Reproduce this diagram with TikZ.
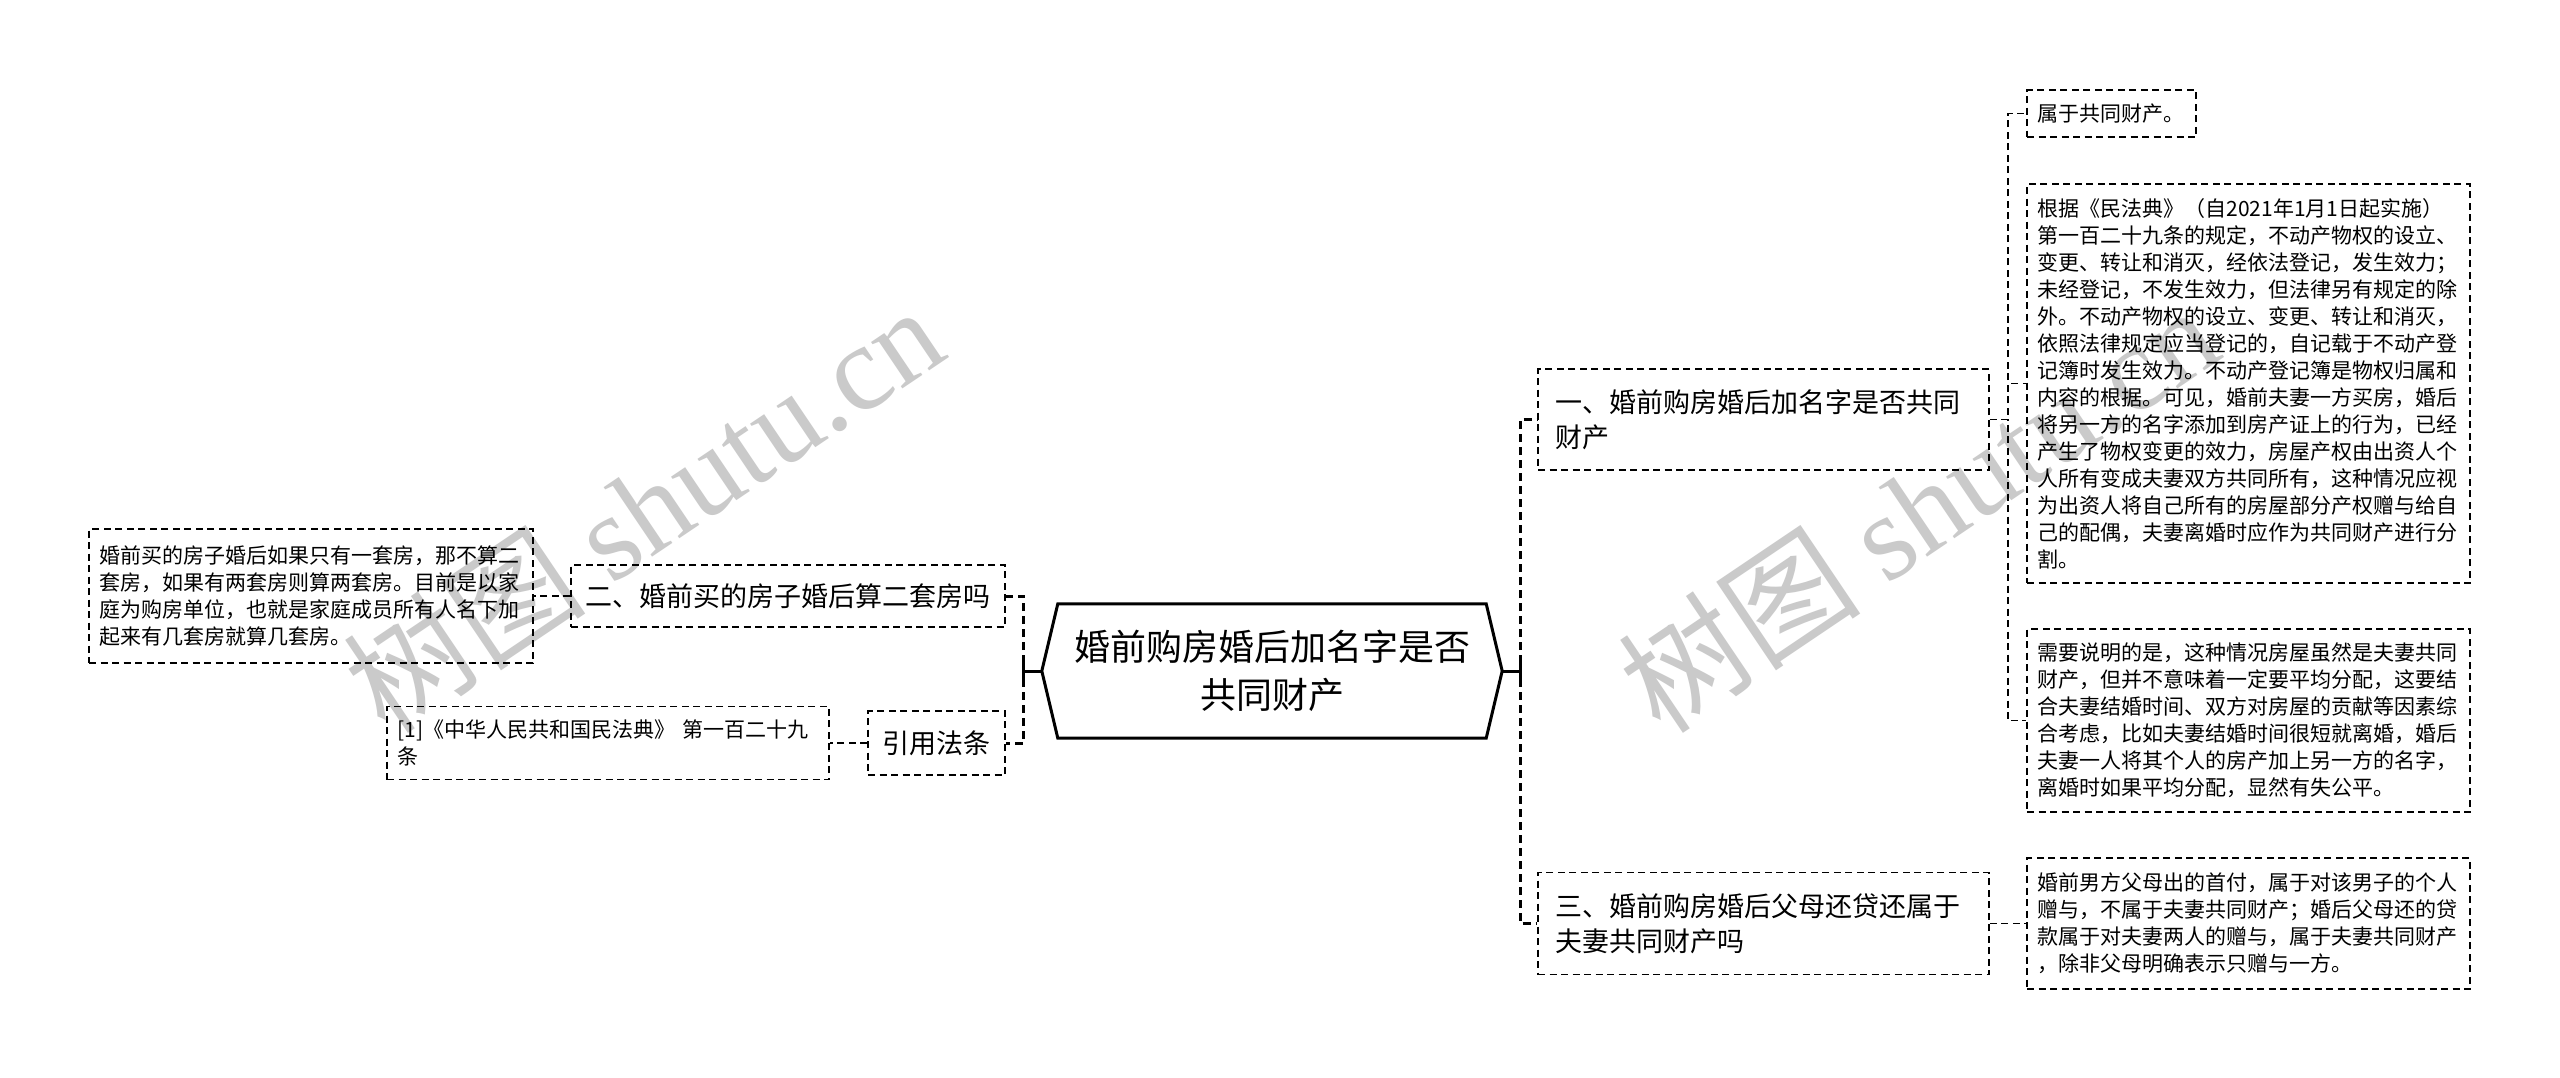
\documentclass[tikz,border=0pt]{standalone}
\usepackage{fontspec}
\setmainfont{Noto Sans CJK SC}
\newfontfamily\wmserif{Liberation Serif}
\newfontfamily\wmcjk{Noto Sans CJK SC}
\usetikzlibrary{calc}
\definecolor{wmgray}{RGB}{202,202,202}
\tikzset{
  leafbox/.style={draw=black, line width=1.6pt, dash pattern=on 7pt off 4.5pt,
    align=left, inner xsep=10.5pt, inner ysep=0pt, anchor=center,
    font=\fontsize{21}{27}\selectfont},
  lvlbox/.style={draw=black, line width=1.8pt, dash pattern=on 7pt off 4.5pt,
    align=left, inner ysep=0pt, anchor=center,
    font=\fontsize{27}{35}\selectfont},
  conna/.style={draw=black, line width=3pt, dash pattern=on 8pt off 5pt},
  connb/.style={draw=black, line width=1.8pt, dash pattern=on 7pt off 4.5pt},
  wm/.style={text=wmgray, inner sep=0pt, anchor=center, rotate=34}
}
\begin{document}
\begin{tikzpicture}[x=1pt,y=-1pt]
\fill[white] (0,0) rectangle (2560,1077);
\useasboundingbox (0,0) rectangle (2560,1077);

% watermarks
\node[wm] (wmA) at (643,508) {\fontsize{122}{130}\selectfont{\wmcjk 树图} {\wmserif shutu.cn}};
\node[wm] (wmB) at (1918,508) {\fontsize{122}{130}\selectfont{\wmcjk 树图} {\wmserif shutu.cn}};

% root
\node[inner sep=0pt, minimum width=460pt, minimum height=134pt, align=center,
      font=\fontsize{36}{48}\selectfont] (root) at (1272,671) {};
\draw[line width=3pt, fill=white, line join=miter]
  (root.west) -- ([xshift=16pt]root.north west) -- ([xshift=-16pt]root.north east)
  -- (root.east) -- ([xshift=-16pt]root.south east) -- ([xshift=16pt]root.south west) -- cycle;
\node[inner sep=0pt, align=center, font=\fontsize{36}{48}\selectfont] (roottext) at (root.center) {婚前购房婚后加名字是否\\共同财产};

% level 1
\node[lvlbox, inner xsep=17pt, text width=417pt, minimum height=101pt] (A) at (1763.5,419.5) {一、婚前购房婚后加名字是否共同\\财产};
\node[lvlbox, inner xsep=17pt, text width=417pt, minimum height=102pt] (B) at (1763.5,923.5) {三、婚前购房婚后父母还贷还属于\\夫妻共同财产吗};
\node[lvlbox, inner xsep=14.5pt, text width=405pt, minimum height=62pt] (two) at (788,596) {二、婚前买的房子婚后算二套房吗};
\node[lvlbox, inner xsep=14.5pt, text width=108pt, minimum height=64pt] (cite) at (936.5,743) {引用法条};

% leaves
\node[leafbox, text width=148pt, minimum height=47pt] (a1) at (2111.5,113.5) {属于共同财产。};
\node[leafbox, text width=422pt, minimum height=399pt] (a2) at (2248.5,383.5) {根据《民法典》（自2021年1月1日起实施）\\第一百二十九条的规定，不动产物权的设立、\\变更、转让和消灭，经依法登记，发生效力；\\未经登记，不发生效力，但法律另有规定的除\\外。不动产物权的设立、变更、转让和消灭，\\依照法律规定应当登记的，自记载于不动产登\\记簿时发生效力。不动产登记簿是物权归属和\\内容的根据。可见，婚前夫妻一方买房，婚后\\将另一方的名字添加到房产证上的行为，已经\\产生了物权变更的效力，房屋产权由出资人个\\人所有变成夫妻双方共同所有，这种情况应视\\为出资人将自己所有的房屋部分产权赠与给自\\己的配偶，夫妻离婚时应作为共同财产进行分\\割。};
\node[leafbox, text width=422pt, minimum height=183pt] (a3) at (2248.5,720.5) {需要说明的是，这种情况房屋虽然是夫妻共同\\财产，但并不意味着一定要平均分配，这要结\\合夫妻结婚时间、双方对房屋的贡献等因素综\\合考虑，比如夫妻结婚时间很短就离婚，婚后\\夫妻一人将其个人的房产加上另一方的名字，\\离婚时如果平均分配，显然有失公平。};
\node[leafbox, text width=422pt, minimum height=131pt] (b1) at (2248.5,923.5) {婚前男方父母出的首付，属于对该男子的个人\\赠与，不属于夫妻共同财产；婚后父母还的贷\\款属于对夫妻两人的赠与，属于夫妻共同财产\\，除非父母明确表示只赠与一方。};
\node[leafbox, text width=423pt, minimum height=134pt] (l1) at (311,596) {婚前买的房子婚后如果只有一套房，那不算二\\套房，如果有两套房则算两套房。目前是以家\\庭为购房单位，也就是家庭成员所有人名下加\\起来有几套房就算几套房。};
\node[leafbox, text width=421pt, minimum height=73pt] (l2) at (608,743) {{[1]}《中华人民共和国民法典》 第一百二十九\\条};

% level-1 connectors
\draw[conna] (root.west) -- ++(-18,0) |- (two.east);
\draw[conna] (root.west) -- ++(-18,0) |- (cite.east);
\draw[conna] (root.east) -- ++(18,0) |- (A.west);
\draw[conna] (root.east) -- ++(18,0) |- (B.west);
\draw[line width=3pt] (root.west) -- ++(-18,0) ++(0,-9) -- ++(0,18);
\draw[line width=3pt] (root.east) -- ++(18,0) ++(0,-9) -- ++(0,18);

% level-2 connectors
\draw[connb] (A.east) -- ++(18,0) |- (a1.west);
\draw[connb] (A.east) -- ++(18,0) |- (a2.west);
\draw[connb] (A.east) -- ++(18,0) |- (a3.west);
\draw[connb] (B.east) -- (b1.west);
\draw[connb] (two.west) -- (l1.east);
\draw[connb] (cite.west) -- (l2.east);
\end{tikzpicture}
\end{document}
